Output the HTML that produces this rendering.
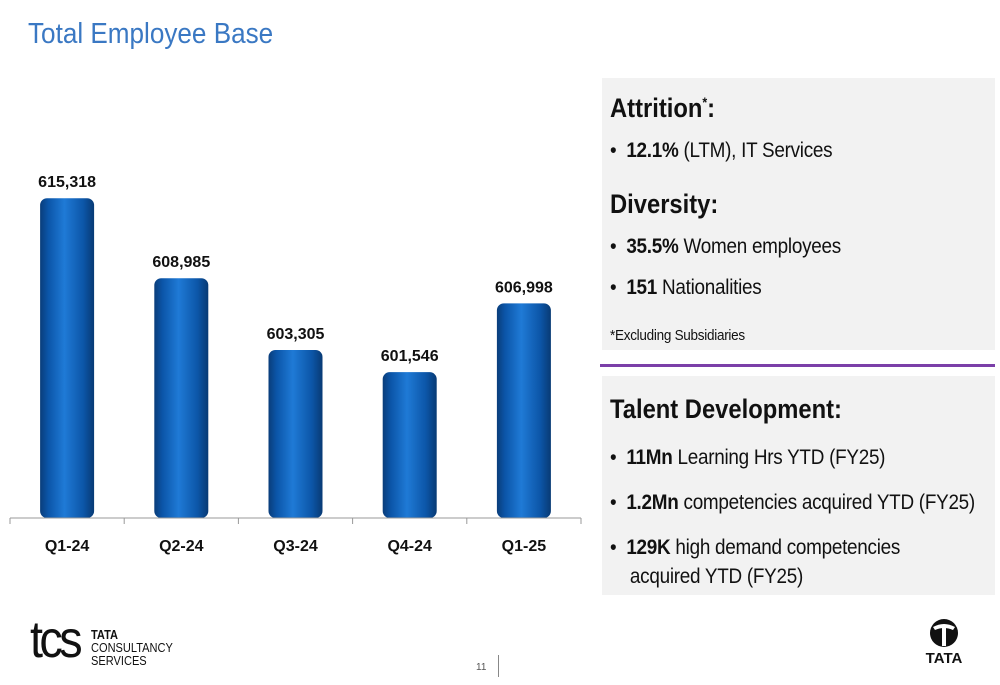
<!DOCTYPE html>
<html><head><meta charset="utf-8"><style>
body{margin:0;width:1000px;height:685px;background:#fff;position:relative;overflow:hidden;font-family:"Liberation Sans",sans-serif}
.t{position:absolute}
.panel{position:absolute;background:#f2f2f2;left:602px;width:393px}
.h{font-family:"Liberation Sans Narrow","Liberation Sans",sans-serif;font-weight:bold;font-size:27px;color:#111;position:absolute;left:8px;transform:scaleX(0.88);transform-origin:left;white-space:nowrap}
.b{position:absolute;left:8px;font-size:21px;color:#111;transform:scaleX(0.9);transform-origin:left;white-space:nowrap;letter-spacing:-0.3px}
</style></head><body>
<div class="t" style="left:28px;top:18px;font-size:29px;color:#3a78c3;transform:scaleX(0.9);transform-origin:left">Total Employee Base</div>

<svg class="t" style="left:0;top:0" width="600" height="600">
<defs><linearGradient id="g" x1="0" x2="1"><stop offset="0" stop-color="#0a3d7a"/><stop offset="0.15" stop-color="#0b55a8"/><stop offset="0.45" stop-color="#1f7ad6"/><stop offset="0.8" stop-color="#0c56a8"/><stop offset="1" stop-color="#083a74"/></linearGradient></defs>
<g id="bars"></g>
</svg>

<div class="panel" style="top:78px;height:272px">
<div class="h" style="top:15px">Attrition<sup style="font-size:14px">*</sup>:</div>
<div class="b" style="top:61px">• &nbsp;<b>12.1%</b> (LTM), IT Services</div>
<div class="h" style="top:111px">Diversity:</div>
<div class="b" style="top:157px">• &nbsp;<b>35.5%</b> Women employees</div>
<div class="b" style="top:198px">• &nbsp;<b>151</b> Nationalities</div>
<div class="b" style="top:249px;font-size:15px">*Excluding Subsidiaries</div>
</div>
<div class="t" style="left:600px;top:364px;width:395px;height:3px;background:#7b3fa8"></div>
<div class="panel" style="top:376px;height:219px">
<div class="h" style="top:18px">Talent Development:</div>
<div class="b" style="top:70px">• &nbsp;<b>11Mn</b> Learning Hrs YTD (FY25)</div>
<div class="b" style="top:115px">• &nbsp;<b>1.2Mn</b> competencies acquired YTD (FY25)</div>
<div class="b" style="top:160px">• &nbsp;<b>129K</b> high demand competencies</div>
<div class="b" style="top:189px">&nbsp;&nbsp;&nbsp;&nbsp;acquired YTD (FY25)</div>
</div>

<div class="t" style="left:30px;top:622px">
<span style="position:absolute;left:0;top:-12px;font-size:52px;letter-spacing:-4px;color:#111;transform:scaleX(0.9);transform-origin:left">tcs</span>
<span style="position:absolute;left:61px;top:6px;font-size:13px;line-height:13px;color:#111;white-space:nowrap;transform:scaleX(0.85);transform-origin:left"><b>TATA</b><br>CONSULTANCY<br>SERVICES</span>
</div>
<div class="t" style="left:476px;top:662px;font-size:10px;color:#555">11</div>
<div class="t" style="left:498px;top:655px;width:1px;height:22px;background:#888"></div>
<div class="t" style="left:922px;top:618px;width:44px;text-align:center">
<svg width="30" height="30" style="display:block;margin:0 auto"><circle cx="15" cy="15" r="14" fill="#111"/><path d="M4 9 Q15 3 26 9 L24 12 Q15 8 6 12Z" fill="#fff"/><rect x="13" y="10" width="4" height="18" fill="#fff"/></svg>
<div style="font-weight:bold;font-size:15px;color:#111;margin-top:2px">TATA</div>
</div>

<script>
const categories=["Q1-24","Q2-24","Q3-24","Q4-24","Q1-25"];
const values=[615318,608985,603305,601546,606998];
const labels=["615,318","608,985","603,305","601,546","606,998"];
const NS="http://www.w3.org/2000/svg";
const g=document.getElementById("bars");
const base=518,minV=590000,k=0.01263,x0=10,step=114.2,bw=54;
function y(v){return base-(v-minV)*k;}
function xc(i){return x0+step*(i+0.5);}
function mk(t,a){const e=document.createElementNS(NS,t);for(const p in a)e.setAttribute(p,a[p]);g.appendChild(e);return e;}
categories.forEach((c,i)=>{
 const top=y(values[i]);
 const r=mk("rect",{x:xc(i)-bw/2,y:top,width:bw,height:base-top,rx:7,fill:"url(#g)"});
 
 
 const l=mk("text",{x:xc(i),y:top-11,"text-anchor":"middle","font-size":"16","font-weight":"bold",fill:"#111"});
 l.textContent=labels[i];
 
 
 const t=mk("text",{x:xc(i),y:551,"text-anchor":"middle","font-size":"16","font-weight":"bold",fill:"#111"});
 t.textContent=c;
 
 
});
const ax=mk("line",{x1:x0,x2:x0+step*5,y1:base,y2:base,stroke:"#999"});


for(let i=0;i<=5;i++){const tk=mk("line",{x1:x0+step*i,x2:x0+step*i,y1:base,y2:base+6,stroke:"#999"});
 
 }
</script>
</body></html>
